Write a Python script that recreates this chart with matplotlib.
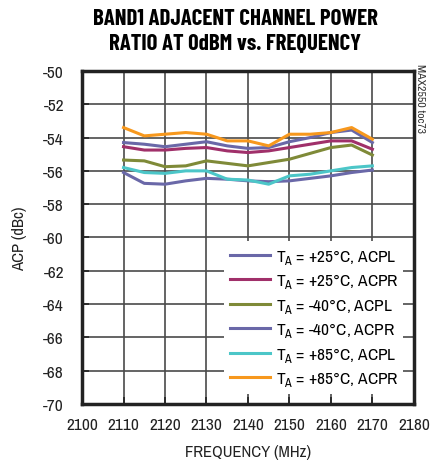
import matplotlib
matplotlib.use('Agg')
import matplotlib.pyplot as plt

FONT = 'Archivo Narrow'
plt.rcParams['font.family'] = [FONT, 'Liberation Sans', 'DejaVu Sans']
plt.rcParams['mathtext.fontset'] = 'custom'
plt.rcParams['mathtext.rm'] = FONT

freq = [2110, 2115, 2120, 2125, 2130, 2135, 2140, 2145, 2150, 2155, 2160, 2165, 2170]
acpl_25 = [-54.3, -54.4, -54.55, -54.4, -54.25, -54.5, -54.65, -54.6, -54.25, -54.0, -53.7, -53.55, -54.3]
acpr_25 = [-54.55, -54.75, -54.75, -54.65, -54.6, -54.8, -54.9, -54.8, -54.6, -54.4, -54.2, -54.2, -54.7]
acpl_m40 = [-55.35, -55.4, -55.75, -55.7, -55.4, -55.55, -55.7, -55.5, -55.3, -54.95, -54.6, -54.45, -55.05]
acpr_m40 = [-56.1, -56.75, -56.8, -56.6, -56.45, -56.5, -56.6, -56.65, -56.6, -56.45, -56.3, -56.1, -55.95]
acpl_85 = [-55.8, -56.1, -56.15, -56.0, -56.0, -56.5, -56.55, -56.8, -56.3, -56.2, -56.0, -55.8, -55.7]
acpr_85 = [-53.4, -53.9, -53.8, -53.7, -53.8, -54.2, -54.2, -54.5, -53.8, -53.8, -53.7, -53.4, -54.1]

labels = [r'T$_{\mathrm{A}}$ = +25°C, ACPL', r'T$_{\mathrm{A}}$ = +25°C, ACPR',
          r'T$_{\mathrm{A}}$ = -40°C, ACPL', r'T$_{\mathrm{A}}$ = -40°C, ACPR',
          r'T$_{\mathrm{A}}$ = +85°C, ACPL', r'T$_{\mathrm{A}}$ = +85°C, ACPR']
colors = ['#6a68a8', '#a0306a', '#7f8a38', '#6a68a8', '#4cc6c8', '#f7981d']
series = [acpl_25, acpr_25, acpl_m40, acpr_m40, acpl_85, acpr_85]

fig = plt.figure(figsize=(4.32, 4.64), dpi=100)
ax = fig.add_axes([0.19, 0.127, 0.768, 0.718])

for ys, c, lab in zip(series, colors, labels):
    ax.plot(freq, ys, color=c, lw=2.2, label=lab)

ax.set_xlim(2100, 2180)
ax.set_ylim(-70, -50)
ax.set_xticks(range(2100, 2181, 10))
ax.set_yticks(range(-70, -49, 2))
ax.set_yticklabels([str(v) for v in range(-70, -49, 2)])
ax.grid(True, color='#4a4a4a', lw=1.2)
ax.tick_params(direction='in', length=5, width=1.2, labelsize=12.5, colors='#222222')
ax.tick_params(axis='y', pad=13)
ax.tick_params(axis='x', pad=9)
for s in ax.spines.values():
    s.set_linewidth(2.5)
    s.set_color('#222222')

ax.set_xlabel('FREQUENCY (MHz)', fontsize=12, color='#222222', labelpad=9)
ax.set_ylabel('ACP (dBc)', fontsize=12, color='#222222', labelpad=12)

leg = ax.legend(loc='lower right', frameon=True, fontsize=12.5, handlelength=2.35,
                borderaxespad=0.6, labelspacing=0.32, handletextpad=0.3,
                fancybox=False, borderpad=0.3)
leg.get_frame().set_edgecolor('none')
leg.get_frame().set_facecolor('white')
leg.get_frame().set_alpha(1)

fig.text(0.545, 0.932, 'BAND1 ADJACENT CHANNEL POWER\nRATIO AT 0dBM vs. FREQUENCY',
         ha='center', va='center', fontsize=16.5, fontweight='bold', linespacing=1.35,
         family=['Barlow Condensed', 'DejaVu Sans'])
fig.text(0.972, 0.862, 'MAX2550 toc73', rotation=270, ha='center', va='top', fontsize=8.5,
         color='#333333')

fig.savefig('out.png', dpi=100)
